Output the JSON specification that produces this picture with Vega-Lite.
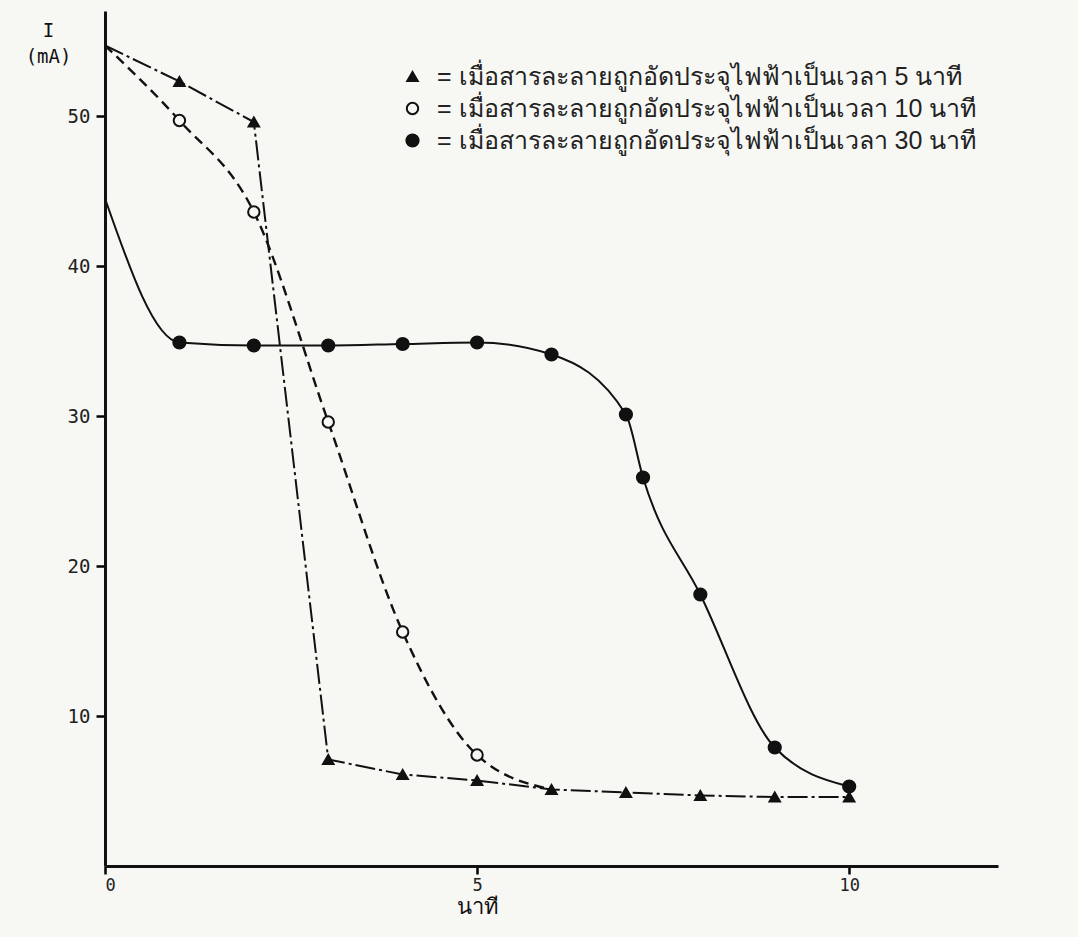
{
  "$schema": "https://vega.github.io/schema/vega-lite/v6.json",
  "width": 893,
  "height": 855,
  "autosize": {"type": "none"},
  "padding": {"left": 105, "top": 11, "right": 80, "bottom": 71},
  "background": "#f7f7f4",
  "config": {"view": {"stroke": null}, "font": "DejaVu Sans Mono"},
  "data": {
    "values": [
      {"s": "5", "t": 0, "i": 54.7},
      {"s": "5", "t": 1, "i": 52.3},
      {"s": "5", "t": 2, "i": 49.6},
      {"s": "5", "t": 3, "i": 7.1},
      {"s": "5", "t": 4, "i": 6.1},
      {"s": "5", "t": 5, "i": 5.7},
      {"s": "5", "t": 6, "i": 5.1},
      {"s": "5", "t": 7, "i": 4.9},
      {"s": "5", "t": 8, "i": 4.7},
      {"s": "5", "t": 9, "i": 4.6},
      {"s": "5", "t": 10, "i": 4.6},
      {"s": "10", "t": 0, "i": 54.7},
      {"s": "10", "t": 1, "i": 49.7},
      {"s": "10", "t": 2, "i": 43.6},
      {"s": "10", "t": 3, "i": 29.6},
      {"s": "10", "t": 4, "i": 15.6},
      {"s": "10", "t": 5, "i": 7.4},
      {"s": "10", "t": 6, "i": 5.1},
      {"s": "30", "t": 0, "i": 44.5},
      {"s": "30", "t": 1, "i": 34.9},
      {"s": "30", "t": 2, "i": 34.7},
      {"s": "30", "t": 3, "i": 34.7},
      {"s": "30", "t": 4, "i": 34.8},
      {"s": "30", "t": 5, "i": 34.9},
      {"s": "30", "t": 6, "i": 34.1},
      {"s": "30", "t": 7, "i": 30.1},
      {"s": "30", "t": 7.23, "i": 25.9},
      {"s": "30", "t": 8, "i": 18.1},
      {"s": "30", "t": 9, "i": 7.9},
      {"s": "30", "t": 10, "i": 5.3}
    ]
  },
  "encoding": {
    "x": {
      "field": "t",
      "type": "quantitative",
      "scale": {"domain": [0, 12], "nice": false, "zero": false},
      "axis": {
        "values": [0, 5, 10],
        "grid": false,
        "ticks": true,
        "tickOpacity": 1,
        "domainColor": "#111",
        "domainWidth": 3,
        "tickColor": "#000",
        "tickWidth": 2.5,
        "tickSize": 8,
        "labelPadding": 3,
        "labelFontSize": 17,
        "labelColor": "#222",
        "title": "นาที",
        "titleFontSize": 22,
        "titleFontWeight": "normal",
        "titleColor": "#111",
        "titleX": 372,
        "titleY": 30,
        "titleBaseline": "top"
      }
    },
    "y": {
      "field": "i",
      "type": "quantitative",
      "scale": {"domain": [0, 57], "nice": false, "zero": false},
      "axis": {
        "values": [10, 20, 30, 40, 50],
        "grid": false,
        "ticks": true,
        "tickOpacity": 1,
        "domainColor": "#111",
        "domainWidth": 3,
        "tickColor": "#000",
        "tickWidth": 2.5,
        "tickSize": 9,
        "labelPadding": 6,
        "labelFontSize": 19,
        "labelColor": "#222",
        "title": ["I", "(mA)"],
        "titleAngle": 0,
        "titleAlign": "center",
        "titleBaseline": "top",
        "titleX": -57,
        "titleY": 10,
        "titleFontSize": 19,
        "titleFontWeight": "normal",
        "titleLineHeight": 26,
        "titleColor": "#111"
      }
    }
  },
  "layer": [
    {
      "transform": [{"filter": "datum.s == '5'"}],
      "mark": {"type": "line", "interpolate": "linear", "strokeWidth": 2, "color": "#111", "strokeDash": [20, 4, 3, 4]},
      "encoding": {}
    },
    {
      "transform": [{"filter": "datum.s == '10'"}],
      "mark": {"type": "line", "interpolate": "monotone", "strokeWidth": 2.4, "color": "#111", "strokeDash": [10, 6]},
      "encoding": {}
    },
    {
      "transform": [{"filter": "datum.s == '30'"}],
      "mark": {"type": "line", "interpolate": "monotone", "strokeWidth": 2, "color": "#111"},
      "encoding": {}
    },
    {
      "transform": [{"filter": "datum.t > 0 && !(datum.s == '10' && datum.t == 6)"}],
      "mark": {"type": "point", "stroke": "#111", "strokeWidth": 2, "opacity": 1, "filled": false},
      "encoding": {
        "shape": {
          "field": "s",
          "type": "nominal",
          "scale": {"domain": ["5", "10", "30"], "range": ["triangle-up", "circle", "circle"]},
          "legend": {
            "title": null,
            "orient": "none",
            "legendX": 295,
            "legendY": 53,
            "labelExpr": "'=  เมื่อสารละลายถูกอัดประจุไฟฟ้าเป็นเวลา  ' + datum.label + '  นาที'",
            "labelFontSize": 25,
            "labelLimit": 0,
            "labelColor": "#222",
            "labelFont": "sans-serif",
            "rowPadding": 6,
            "symbolStrokeColor": "#111",
            "symbolStrokeWidth": 2,
            "labelOffset": 12
          }
        },
        "fill": {
          "field": "s",
          "type": "nominal",
          "scale": {"domain": ["5", "10", "30"], "range": ["#111", "#f7f7f4", "#111"]}
        },
        "size": {
          "field": "s",
          "type": "nominal",
          "scale": {"domain": ["5", "10", "30"], "range": [110, 150, 110]}
        }
      }
    }
  ]
}
